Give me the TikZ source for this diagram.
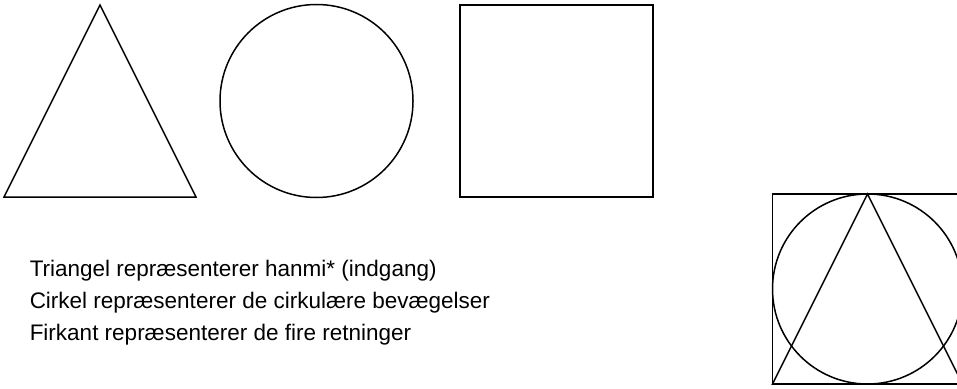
\documentclass[tikz,border=0pt]{standalone}
\usepackage{fontspec}
\setmainfont{Liberation Sans}
\begin{document}
\begin{tikzpicture}[x=1pt,y=-1pt,line width=1.5pt,line join=miter,
  shapeline/.style={draw=black,line width=1.5pt},
  caption/.style={anchor=base west,inner sep=0pt,font=\fontsize{22.5}{32}\selectfont}]
\useasboundingbox (0,0) rectangle (957,388);
\clip (0,0) rectangle (957,388);
% top row
\draw[shapeline] (100,5) -- (196,197) -- (4,197) -- cycle;
\draw[shapeline] (316.5,101) circle[radius=96.5];
\draw[shapeline] (460,5) rectangle (653,197);
% combined figure
\draw[shapeline] (772.5,194) rectangle (962.5,384);
\draw[shapeline] (867.5,289) circle[radius=95];
\draw[shapeline] (867.5,194) -- (962.5,384) -- (772.5,384) -- cycle;
% captions
\node[caption] (t1) at (29,276) {Triangel repræsenterer hanmi* (indgang)};
\node[caption] (t2) at (29,308) {Cirkel repræsenterer de cirkulære bevægelser};
\node[caption] (t3) at (29,340) {Firkant repræsenterer de fire retninger};
\end{tikzpicture}
\end{document}
